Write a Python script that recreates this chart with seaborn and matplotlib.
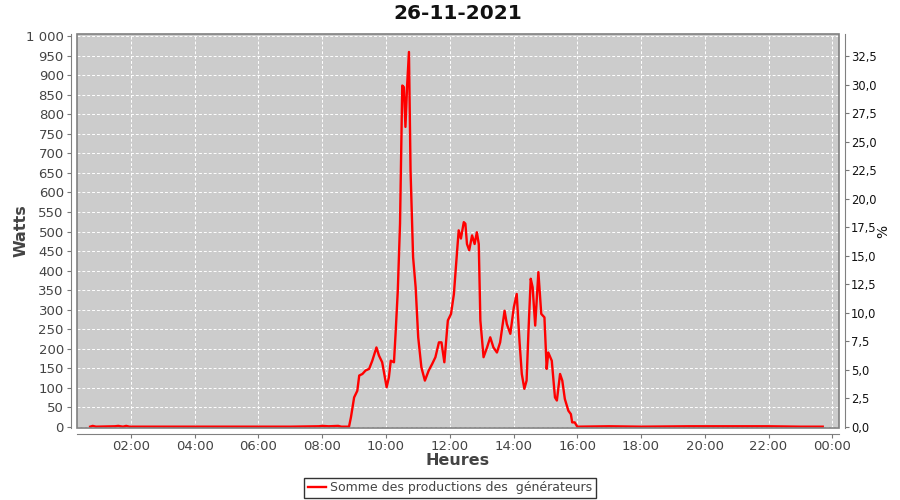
import matplotlib
matplotlib.use('Agg')
import pandas as pd
import seaborn as sns
from matplotlib import pyplot as plt
from matplotlib.patches import Rectangle
from matplotlib.ticker import FuncFormatter, MultipleLocator

# heure decimale de la journee / puissance en watts
heures = [0.72, 0.80, 0.90, 1.50, 1.60, 1.75, 1.85, 1.95, 3.00, 5.00, 7.00, 7.90,
          8.00, 8.20, 8.50, 8.60, 8.84,
          8.90, 9.00, 9.10, 9.16, 9.26, 9.36, 9.47, 9.57, 9.70, 9.78, 9.88, 10.02,
          10.09, 10.15, 10.25, 10.30, 10.37, 10.44, 10.51, 10.56, 10.61, 10.66, 10.72,
          10.77, 10.85, 10.93, 11.01, 11.11, 11.22, 11.34, 11.45, 11.55, 11.66, 11.74,
          11.83, 11.94, 12.04, 12.13, 12.20, 12.28, 12.35, 12.44, 12.49, 12.54, 12.61,
          12.70, 12.78, 12.85, 12.91, 12.96, 13.06, 13.17, 13.27, 13.37, 13.48, 13.58,
          13.72, 13.79, 13.90, 14.01, 14.10, 14.19, 14.26, 14.34, 14.41, 14.47, 14.54,
          14.60, 14.68, 14.78, 14.87, 14.97, 15.04, 15.09, 15.20, 15.30, 15.36, 15.46,
          15.53, 15.61, 15.72, 15.80, 15.84, 15.92, 16.00,
          17.00, 18.00, 19.50, 21.00, 22.00, 23.00, 23.70]
watts = [0, 2, 0, 1, 2, 0, 2, 0, 0, 0, 0, 1,
         2, 1, 2, 0, 0,
         24, 75, 92, 131, 135, 144, 148, 169, 203, 182, 165, 101,
         126, 169, 165, 238, 349, 520, 874, 870, 768, 870, 960,
         656, 434, 357, 229, 152, 118, 144, 161, 178, 216, 216,
         165, 272, 289, 340, 417, 503, 482, 524, 520, 468, 452,
         490, 468, 498, 468, 272, 178, 203, 229, 203, 190, 216,
         297, 263, 238, 306, 340, 216, 135, 97, 118, 246, 379,
         357, 259, 396, 289, 280, 148, 190, 169, 75, 67, 135,
         118, 71, 41, 32, 11, 11, 0,
         1, 0, 1, 1, 1, 0, 0]

titre = "26-11-2021"
serie = "Somme des productions des  générateurs"
w_par_pct = 29.22

df = pd.DataFrame({"heure": heures, "watts": watts})

fig = plt.figure(figsize=(9, 5), dpi=100)
ax = fig.add_axes([77 / 900, 1 - 428 / 500, 762 / 900, 394 / 500])
ax.set_facecolor('#cccccc')

sns.lineplot(data=df, x="heure", y="watts", ax=ax, color='#ff0000', lw=1.7,
             label=serie, legend=False)

ax.set_xlim(0.307, 24.21)
ax.set_ylim(-3.4, 1006)
ax.xaxis.set_major_locator(MultipleLocator(2))
ax.xaxis.set_major_formatter(FuncFormatter(lambda v, p: "%02d:00" % (int(round(v)) % 24)))
ax.yaxis.set_major_locator(MultipleLocator(50))
ax.yaxis.set_major_formatter(FuncFormatter(lambda v, p: f"{int(v):,}".replace(",", " ")))
ax.grid(True, color='white', ls=(0, (3, 2)), lw=0.7)
ax.set_axisbelow(True)

gris = '#444444'
ax.tick_params(axis='both', colors='#777777', labelcolor=gris, labelsize=9.5, length=3, width=0.8)
ax.tick_params(axis='x', pad=1.5)
ax.tick_params(axis='y', pad=2.5)
for s in ['top', 'right']:
    ax.spines[s].set_visible(False)
for s in ['left', 'bottom']:
    ax.spines[s].set_position(('outward', 4))
    ax.spines[s].set_color('#808080')
ax.add_patch(Rectangle((0, 0), 1, 1, transform=ax.transAxes, fill=False,
                       edgecolor='#808080', lw=1.2, clip_on=False, zorder=5))

ax.set_xlabel("Heures", fontsize=11.5, fontweight='bold', color=gris)
ax.set_ylabel("Watts", fontsize=11.5, fontweight='bold', color=gris)
ax.xaxis.set_label_coords(0.5, -0.064)
ax.yaxis.set_label_coords(-0.064, 0.5)

ax2 = ax.twinx()
ax2.set_ylim(-3.4 / w_par_pct, 1006 / w_par_pct)
ax2.yaxis.set_major_locator(MultipleLocator(2.5))
ax2.yaxis.set_major_formatter(FuncFormatter(lambda v, p: f"{v:.1f}".replace(".", ",")))
ax2.tick_params(axis='y', colors='#777777', labelcolor='#111111', labelsize=8.3,
                length=3, width=0.8, pad=1.5)
for s in ['top', 'left', 'bottom']:
    ax2.spines[s].set_visible(False)
ax2.spines['right'].set_position(('outward', 4))
ax2.spines['right'].set_color('#808080')
ax2.set_ylabel("%", fontsize=10, color='#111111')
ax2.yaxis.set_label_coords(1.049, 0.5)

ax.set_title(titre, fontsize=14.5, fontweight='bold', color='#111111', pad=11)

handles, labels = ax.get_legend_handles_labels()
leg = fig.legend(handles, labels, loc='center', bbox_to_anchor=(0.5, 1 - 488 / 500),
                 frameon=True, fancybox=False, edgecolor='black', fontsize=9,
                 handlelength=1.5, borderpad=0.3, handletextpad=0.3)
leg.get_frame().set_linewidth(1.0)
for t in leg.get_texts():
    t.set_color(gris)

fig.savefig("out.png", dpi=100)
